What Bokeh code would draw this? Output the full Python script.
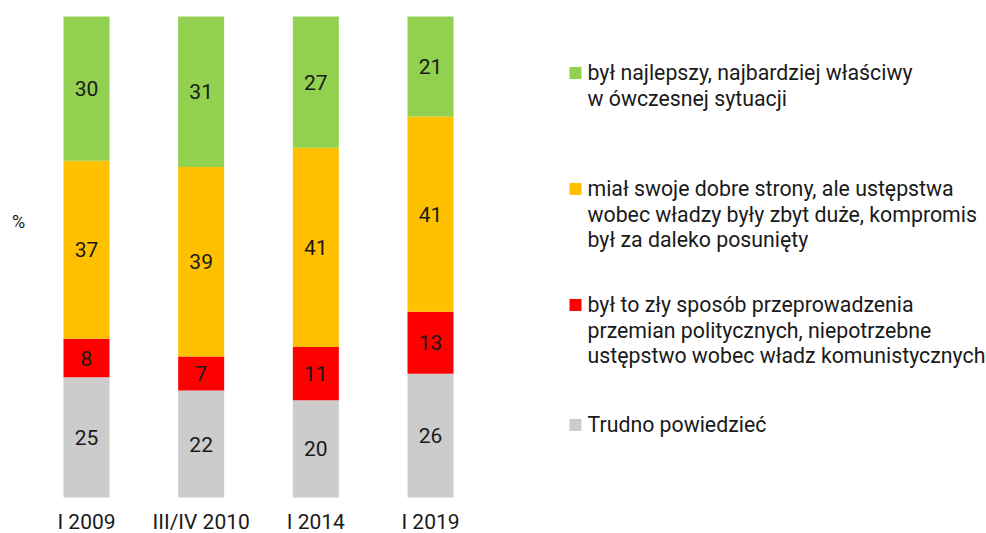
from bokeh.plotting import figure
from bokeh.models import Range1d, ColumnDataSource
from bokeh.core.properties import value
from bokeh.embed import file_html
from bokeh.resources import INLINE

# ---- data ----
categories = ["I 2009", "III/IV 2010", "I 2014", "I 2019"]
trudno = [25, 22, 20, 26]
zly = [8, 7, 11, 13]
dobre_strony = [37, 39, 41, 41]
najlepszy = [30, 31, 27, 21]

series_labels = [
    ["był najlepszy, najbardziej właściwy", "w ówczesnej sytuacji"],
    ["miał swoje dobre strony, ale ustępstwa", "wobec władzy były zbyt duże, kompromis", "był za daleko posunięty"],
    ["był to zły sposób przeprowadzenia", "przemian politycznych, niepotrzebne", "ustępstwo wobec władz komunistycznych"],
    ["Trudno powiedzieć"],
]
colors = ["#92D050", "#FFC000", "#FF0000", "#CCCCCC"]
TEXT = "#1a1a1a"
FONT = "Roboto"

W, H = 986, 533
# layout mapping (screen px of the reference -> data units); canvas sits at 0,0
BAR_X0, BAR_STEP = 86, 114.67      # screen x of first bar centre, spacing
Y_TOP, Y_BOT = 16, 497             # screen y of 100% and 0%
PX_PER_PCT = (Y_BOT - Y_TOP) / 100.0


def dx(px):
    return (px - BAR_X0) / BAR_STEP


def dy(py):
    return (Y_BOT - py) / PX_PER_PCT


p = figure(width=W, height=H, output_backend="svg", toolbar_location=None,
           x_range=Range1d(dx(0), dx(W)), y_range=Range1d(dy(H), dy(0)),
           min_border=0, outline_line_color=None)
p.axis.visible = False
p.grid.visible = False
p.background_fill_color = "white"
p.border_fill_color = "white"

# stack order bottom -> top: trudno, zly, dobre_strony, najlepszy
stack_series = [trudno, zly, dobre_strony, najlepszy]
stack_colors = [colors[3], colors[2], colors[1], colors[0]]
n = len(categories)
totals = [sum(s[i] for s in stack_series) for i in range(n)]
xs = list(range(n))
bottoms = [0.0] * n
for vals, col in zip(stack_series, stack_colors):
    norm = [vals[i] * 100.0 / totals[i] for i in range(n)]
    tops = [bottoms[i] + norm[i] for i in range(n)]
    src = ColumnDataSource(dict(x=xs, bottom=bottoms, top=tops,
                                mid=[(bottoms[i] + tops[i]) / 2 for i in range(n)],
                                lab=[str(v) for v in vals]))
    p.vbar(x="x", bottom="bottom", top="top", width=46 / BAR_STEP, source=src,
           fill_color=col, line_color=None)
    p.text(x="x", y="mid", text="lab", source=src, text_align="center",
           text_baseline="middle", text_font=value(FONT), text_font_size="21px",
           text_color=TEXT)
    bottoms = tops

# category labels
p.text(x=xs, y=[dy(521)] * n, text=categories, text_align="center",
       text_baseline="middle", text_font=value(FONT), text_font_size="21px",
       text_color=TEXT)

# "%" label
p.text(x=[dx(18)], y=[dy(221)], text=["%"], text_align="center",
       text_baseline="middle", text_font=value(FONT), text_font_size="18px",
       text_color=TEXT)

# legend
first_line_y = [72, 188, 304, 424]
line_step = 25.5
for lines, col, y0 in zip(series_labels, colors, first_line_y):
    p.scatter(x=[dx(575)], y=[dy(y0 + 0.5)], marker="square", size=12,
              fill_color=col, line_color=None)
    ys = [dy(y0 + k * line_step) for k in range(len(lines))]
    p.text(x=[dx(587)] * len(lines), y=ys, text=lines, text_align="left",
           text_baseline="middle", text_font=value(FONT), text_font_size="21.3px",
           text_color=TEXT)

open("out.html", "w").write(file_html(p, INLINE))
